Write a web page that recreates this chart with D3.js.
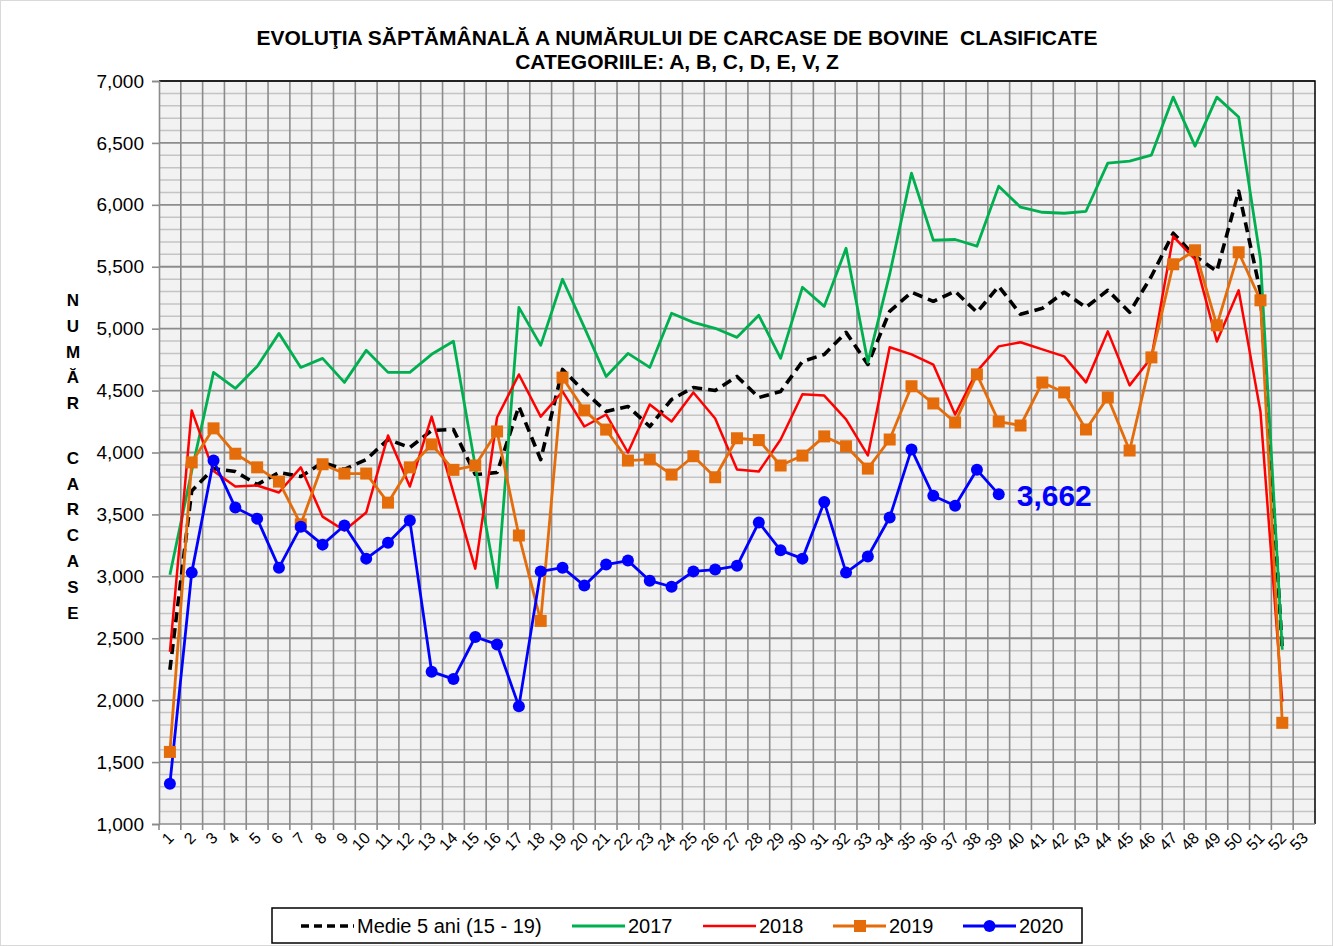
<!DOCTYPE html>
<html>
<head>
<meta charset="utf-8">
<script src="https://cdnjs.cloudflare.com/ajax/libs/d3/7.8.5/d3.min.js"></script>
<style>
  body { margin: 0; background: #fff; }
  svg { display: block; font-family: Arial, "Liberation Sans", sans-serif; }
</style>
</head>
<body>
<svg id="chart" width="1333" height="946"></svg>
<script>
// week numbers on the category axis
var weeks = [1,2,3,4,5,6,7,8,9,10,11,12,13,14,15,16,17,18,19,20,21,22,23,24,25,26,27,
  28,29,30,31,32,33,34,35,36,37,38,39,40,41,42,43,44,45,46,47,48,49,50,51,52,53];

var yTicks = [1000,1500,2000,2500,3000,3500,4000,4500,5000,5500,6000,6500,7000];

// series (weekly carcasses)
var medie = [2245,3690,3870,3846,3741,3838,3806,3919,3863,3943,4105,4040,4178,4186,3822,3838,
  4372,3943,4671,4493,4331,4372,4210,4428,4525,4501,4614,4444,4493,4735,4792,4970,4711,5140,
  5294,5221,5302,5132,5342,5116,5164,5294,5172,5310,5132,5423,5771,5585,5464,6110,5294,2407];
var s2017 = [3013,3850,4647,4517,4695,4962,4687,4760,4566,4825,4647,4647,4793,4898,3890,2908,
  5172,4865,5399,5010,4614,4800,4687,5124,5051,5003,4930,5108,4760,5334,5180,5649,4728,5440,
  6256,5714,5720,5666,6151,5981,5940,5932,5948,6337,6353,6402,6870,6474,6870,6709,5560,2407];
var s2018 = [2390,4340,3850,3725,3733,3677,3880,3482,3370,3515,4137,3725,4290,3676,3062,4283,
  4630,4290,4493,4210,4307,4000,4388,4250,4485,4275,3862,3846,4105,4470,4460,4267,3976,4850,
  4792,4710,4307,4655,4857,4890,4833,4776,4566,4978,4542,4768,5746,5560,4897,5310,4330,1987];
var s2019 = [1582,3920,4195,3990,3880,3765,3420,3905,3830,3830,3595,3880,4065,3860,3895,4170,
  3330,2640,4605,4340,4185,3935,3945,3822,3970,3800,4115,4100,3895,3975,4130,4050,3870,4105,
  4535,4396,4243,4631,4250,4218,4565,4485,4186,4445,4016,4768,5520,5633,5027,5617,5229,1817];
var s2020 = [1325,3030,3935,3555,3466,3070,3400,3256,3410,3143,3272,3450,2230,2170,2510,2450,
  1950,3040,3070,2925,3095,3127,2965,2916,3040,3055,3085,3435,3210,3143,3600,3030,3160,3475,
  4025,3650,3570,3860,3662];

var series = [
  { name: 'Medie 5 ani (15 - 19)', values: medie, color: '#000000', width: 3.6, dash: '10,6', marker: null },
  { name: '2017', values: s2017, color: '#00b050', width: 2.8, dash: null, marker: null },
  { name: '2018', values: s2018, color: '#ff0000', width: 2.5, dash: null, marker: null },
  { name: '2019', values: s2019, color: '#e46c0a', width: 2.8, dash: null, marker: 'square' },
  { name: '2020', values: s2020, color: '#0000ff', width: 2.8, dash: null, marker: 'circle' }
];

var svg = d3.select('#chart');
// plot box (note: "top" is taken by window.top, so prefixed names)
var pL = 159, pR = 1315, pT = 81, pB = 824;

var x = d3.scaleBand().domain(weeks).range([pL, pR]).padding(0);
var y = d3.scaleLinear().domain([1000, 7000]).range([pB, pT]);
var cx = function(i) { return x(weeks[i]) + x.bandwidth() / 2; };

// faint outer frame
svg.append('rect').attr('x', 0.5).attr('y', 0.5).attr('width', 1332).attr('height', 945)
  .attr('fill', 'none').attr('stroke', '#d9d9d9');

// title
svg.append('text').attr('x', 677).attr('y', 45).attr('text-anchor', 'middle')
  .attr('font-size', 21).attr('font-weight', 'bold')
  .text('EVOLUŢIA SĂPTĂMÂNALĂ A NUMĂRULUI DE CARCASE DE BOVINE  CLASIFICATE')
  .style('white-space', 'pre');
svg.append('text').attr('x', 677).attr('y', 69).attr('text-anchor', 'middle')
  .attr('font-size', 21).attr('font-weight', 'bold')
  .text('CATEGORIILE: A, B, C, D, E, V, Z');

// plot background
svg.append('rect').attr('x', pL).attr('y', pT).attr('width', pR - pL).attr('height', pB - pT)
  .attr('fill', '#f2f2f2');

// horizontal grid, every 100
var minor = d3.range(1000, 7001, 100);
svg.append('g').selectAll('line').data(minor.filter(function(v) { return v % 500 !== 0; }))
  .enter().append('line')
  .attr('x1', pL).attr('x2', pR)
  .attr('y1', function(d) { return y(d); }).attr('y2', function(d) { return y(d); })
  .attr('stroke', '#c4c4c4').attr('stroke-width', 1.5);

// vertical grid on category boundaries
svg.append('g').selectAll('line').data(weeks.slice(1))
  .enter().append('line')
  .attr('x1', function(d) { return x(d); }).attr('x2', function(d) { return x(d); })
  .attr('y1', pT).attr('y2', pB)
  .attr('stroke', '#8c8c8c').attr('stroke-width', 1.6);

svg.append('g').selectAll('line').data(yTicks.slice(1))
  .enter().append('line')
  .attr('x1', pL).attr('x2', pR)
  .attr('y1', function(d) { return y(d); }).attr('y2', function(d) { return y(d); })
  .attr('stroke', '#8c8c8c').attr('stroke-width', 1.8);

// top and right border
svg.append('path').attr('d', 'M' + pL + ',' + pT + 'H' + pR + 'V' + pB)
  .attr('fill', 'none').attr('stroke', '#000').attr('stroke-width', 1.5);

// y axis
var yAxis = d3.axisLeft(y).tickValues(yTicks).tickSize(7).tickPadding(8)
  .tickFormat(d3.format(','));
var gy = svg.append('g').attr('transform', 'translate(' + pL + ',0)').call(yAxis);
gy.select('.domain').attr('stroke', '#8c8c8c').attr('stroke-width', 1.6);
gy.selectAll('.tick line').attr('stroke', '#8c8c8c').attr('stroke-width', 1.6);
gy.selectAll('.tick text').attr('font-size', 19).attr('fill', '#000')
  .attr('font-family', 'Arial, "Liberation Sans", sans-serif');

// x axis: ticks on the boundaries, labels centred on the weeks
var gx = svg.append('g');
gx.append('line').attr('x1', pL).attr('x2', pR).attr('y1', pB).attr('y2', pB)
  .attr('stroke', '#8c8c8c').attr('stroke-width', 1.6);
gx.selectAll('line.tk').data(weeks).enter().append('line').attr('class', 'tk')
  .attr('x1', function(d) { return x(d); }).attr('x2', function(d) { return x(d); })
  .attr('y1', pB).attr('y2', pB + 6)
  .attr('stroke', '#8c8c8c').attr('stroke-width', 1.6);
gx.selectAll('text').data(weeks).enter().append('text')
  .attr('transform', function(d, i) { return 'translate(' + (cx(i) + 5) + ',' + (pB + 15) + ') rotate(-45)'; })
  .attr('text-anchor', 'end').attr('font-size', 16)
  .text(function(d) { return d; });

// y axis title, stacked letters
var yTitle = ['N','U','M','Ă','R','','C','A','R','C','A','S','E'];
svg.append('g').selectAll('text').data(yTitle).enter().append('text')
  .attr('x', 73).attr('y', function(d, i) { return 306 + i * 25.8 + (i > 5 ? 3 : 0); })
  .attr('text-anchor', 'middle').attr('font-size', 17).attr('font-weight', 'bold')
  .text(function(d) { return d; });

// lines
var line = d3.line().x(function(d, i) { return cx(i); }).y(function(d) { return y(d); });
var lines = svg.append('g');
series.forEach(function(s) {
  lines.append('path').datum(s.values).attr('d', line)
    .attr('fill', 'none').attr('stroke', s.color).attr('stroke-width', s.width)
    .attr('stroke-linejoin', 'round')
    .attr('stroke-dasharray', s.dash);
});
series.forEach(function(s) {
  if (s.marker === 'square') {
    lines.append('g').selectAll('rect').data(s.values).enter().append('rect')
      .attr('x', function(d, i) { return cx(i) - 6; }).attr('y', function(d) { return y(d) - 6; })
      .attr('width', 12).attr('height', 12).attr('fill', s.color);
  } else if (s.marker === 'circle') {
    lines.append('g').selectAll('circle').data(s.values).enter().append('circle')
      .attr('cx', function(d, i) { return cx(i); }).attr('cy', function(d) { return y(d); })
      .attr('r', 6).attr('fill', s.color);
  }
});

// last value label for 2020
var lastI = s2020.length - 1;
svg.append('text').attr('x', cx(lastI) + 18).attr('y', y(s2020[lastI]) + 12)
  .attr('font-size', 30).attr('font-weight', 'bold').attr('fill', '#0000ff')
  .text(d3.format(',')(s2020[lastI]));

// legend
var lg = svg.append('g');
lg.append('rect').attr('x', 272).attr('y', 908).attr('width', 810).attr('height', 35)
  .attr('fill', '#fff').attr('stroke', '#000').attr('stroke-width', 1.5);
var legendPos = [301, 572, 703, 833, 963];
series.forEach(function(s, i) {
  var lx = legendPos[i], ly = 926;
  lg.append('line').attr('x1', lx).attr('x2', lx + 53).attr('y1', ly).attr('y2', ly)
    .attr('stroke', s.color).attr('stroke-width', s.width)
    .attr('stroke-dasharray', s.dash ? '8,5' : null);
  if (s.marker === 'square') {
    lg.append('rect').attr('x', lx + 21).attr('y', ly - 6).attr('width', 12).attr('height', 12).attr('fill', s.color);
  } else if (s.marker === 'circle') {
    lg.append('circle').attr('cx', lx + 26.5).attr('cy', ly).attr('r', 6).attr('fill', s.color);
  }
  lg.append('text').attr('x', lx + 56).attr('y', ly + 7).attr('font-size', 20).text(s.name);
});
</script>
</body>
</html>
